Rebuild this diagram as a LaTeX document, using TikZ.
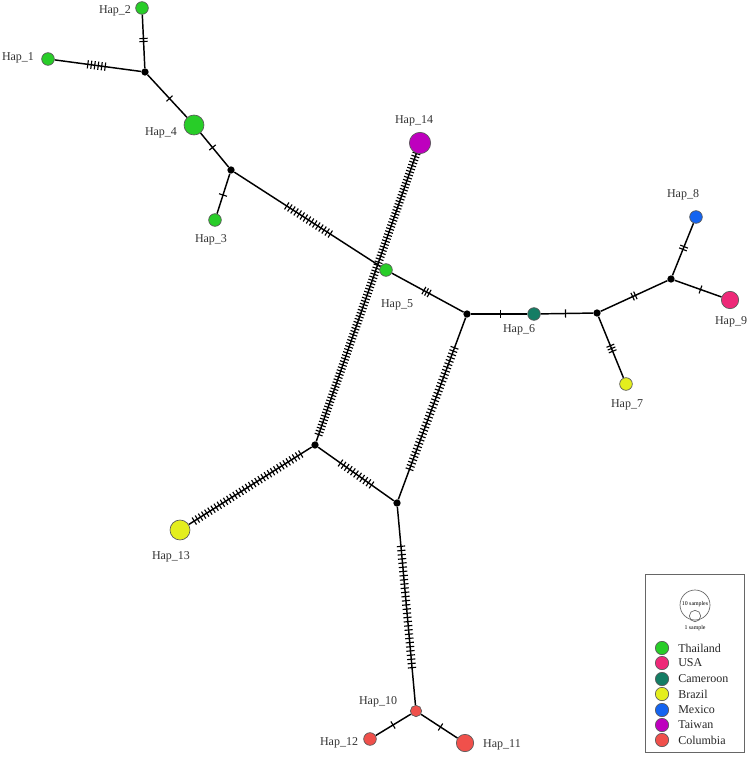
\documentclass[tikz,border=0pt]{standalone}
\usepackage{fontspec}
\setmainfont{Liberation Serif}
\usetikzlibrary{calc}
\pgfdeclarelayer{bg}
\pgfsetlayers{bg,main}
\definecolor{thai}{RGB}{40,205,40}
\definecolor{usa}{RGB}{238,40,120}
\definecolor{cam}{RGB}{20,125,100}
\definecolor{bra}{RGB}{228,238,30}
\definecolor{mex}{RGB}{20,100,240}
\definecolor{tai}{RGB}{190,0,190}
\definecolor{col}{RGB}{240,80,75}
\tikzset{
  hap/.style={circle, draw=black!65, line width=0.5pt, inner sep=0pt, minimum size=#1},
  med/.style={circle, fill=black, inner sep=0pt, minimum size=5.5pt},
  edge/.style={line width=1.1pt, black},
  tick/.style={line width=0.85pt, black},
  lab/.style={font=\fontsize{9pt}{10pt}\selectfont, text=black!80, inner sep=0pt},
  leg/.style={font=\fontsize{9pt}{10pt}\selectfont, text=black!85, inner sep=0pt, anchor=west},
}
\newcommand\hedge[4]{%
  \begin{pgfonlayer}{bg}
  \draw[edge] (#1) -- (#2);
  \foreach \i in {1,...,#3}{
    \path ($(#1)!0.5!(#2)$) coordinate (tc);
    \path ($(tc)!{((\i-(#3+1)/2)*#4*0.75)*1pt}!(#2)$) coordinate (tp);
    \draw[tick] ($(tp)!3.1pt!90:(#2)$) -- ($(tp)!3.1pt!-90:(#2)$);
  }
  \end{pgfonlayer}}
\begin{document}
\begin{tikzpicture}[x=0.75pt,y=-0.75pt]
\useasboundingbox (0,0) rectangle (749,762);
% haplotypes
\node[hap=9.5pt, fill=thai] (h1) at (48,59) {};
\node[hap=9.5pt, fill=thai] (h2) at (142,8) {};
\node[hap=15pt, fill=thai] (h4) at (194,125) {};
\node[hap=9.5pt, fill=thai] (h3) at (215,220) {};
\node[hap=9.5pt, fill=thai] (h5) at (386,270) {};
\node[hap=16pt, fill=tai] (h14) at (420,143) {};
\node[hap=9.5pt, fill=cam] (h6) at (534,314) {};
\node[hap=9.5pt, fill=bra] (h7) at (626,384) {};
\node[hap=9.5pt, fill=mex] (h8) at (696,217) {};
\node[hap=13pt, fill=usa] (h9) at (730,300) {};
\node[hap=15pt, fill=bra] (h13) at (180,530) {};
\node[hap=8.5pt, fill=col] (h10) at (416,711) {};
\node[hap=9.5pt, fill=col] (h12) at (370,739) {};
\node[hap=13pt, fill=col] (h11) at (465,743) {};
% median vectors
\node[med] (m1) at (145,72) {};
\node[med] (m2) at (231,170) {};
\node[med] (m3) at (467,314) {};
\node[med] (m4) at (597,313) {};
\node[med] (m5) at (671,279) {};
\node[med] (m6) at (315,445) {};
\node[med] (m7) at (397,503) {};
% edges
\hedge{h1}{m1}{6}{3.5}
\hedge{h2}{m1}{2}{3}
\hedge{m1}{h4}{1}{3}
\hedge{h4}{m2}{1}{3}
\hedge{m2}{h3}{1}{3}
\hedge{m2}{h5}{15}{3.7}
\hedge{h5}{m3}{3}{3}
\hedge{m3}{h6}{1}{3}
\hedge{h6}{m4}{1}{3}
\hedge{m4}{h7}{3}{3}
\hedge{m4}{m5}{2}{3}
\hedge{m5}{h8}{2}{3}
\hedge{m5}{h9}{1}{3}
\hedge{h14}{m6}{94}{3.2}
\hedge{m3}{m7}{38}{3.5}
\hedge{m6}{m7}{11}{3.8}
\hedge{m6}{h13}{35}{3.7}
\hedge{m7}{h10}{30}{4.2}
\hedge{h10}{h12}{1}{3}
\hedge{h10}{h11}{1}{3}
% labels
\node[lab] (t1) at (18,58) {Hap\_1};
\node[lab] (t2) at (115,11) {Hap\_2};
\node[lab] (t4) at (161,133) {Hap\_4};
\node[lab] (t3) at (211,240) {Hap\_3};
\node[lab] (t14) at (414,121) {Hap\_14};
\node[lab] (t5) at (397,305) {Hap\_5};
\node[lab] (t6) at (519,330) {Hap\_6};
\node[lab] (t7) at (627,405) {Hap\_7};
\node[lab] (t8) at (683,195) {Hap\_8};
\node[lab] (t9) at (731,322) {Hap\_9};
\node[lab] (t13) at (171,557) {Hap\_13};
\node[lab] (t10) at (378,702) {Hap\_10};
\node[lab] (t12) at (339,743) {Hap\_12};
\node[lab] (t11) at (502,745) {Hap\_11};
% legend
\node[draw=black!60, line width=0.5pt, minimum width=74.25pt, minimum height=133.5pt, inner sep=0pt] (lbox) at (694.5,663.5) {};
\node[circle, draw=black!60, line width=0.5pt, minimum size=22.5pt, inner sep=0pt] (big) at (695,605) {};
\node[circle, draw=black!60, line width=0.5pt, minimum size=8.5pt, inner sep=0pt] (small) at (695,616) {};
\node[font=\fontsize{4.4pt}{5pt}\selectfont, inner sep=0pt] (t10s) at (695,604) {10 samples};
\node[font=\fontsize{4.4pt}{5pt}\selectfont, inner sep=0pt] (t1s) at (695,628) {1 sample};
\foreach \c/\t/\y [count=\k] in {thai/Thailand/648, usa/USA/663, cam/Cameroon/679, bra/Brazil/694, mex/Mexico/710, tai/Taiwan/725, col/Columbia/740}{
  \node[hap=10pt, fill=\c] (lc\k) at (662,\y) {};
  \node[leg] (lt\k) at (678,\y) {\t};
}
\end{tikzpicture}
\end{document}
